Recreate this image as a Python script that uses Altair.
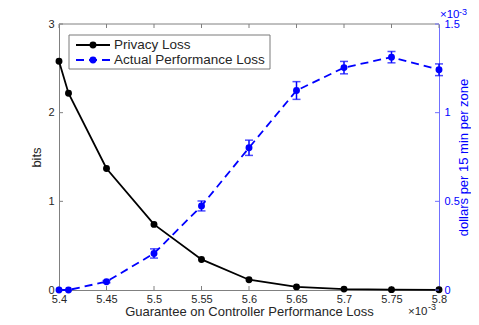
import altair as alt
import pandas as pd

# ---- data (x in units of 1e-3, right axis in units of 1e-3) ----
guarantee = [5.40, 5.41, 5.45, 5.50, 5.55, 5.60, 5.65, 5.70, 5.75, 5.80]
privacy_loss = [2.58, 2.22, 1.37, 0.74, 0.345, 0.116, 0.035, 0.010, 0.004, 0.002]
perf_loss = [0.0, 0.0, 0.047, 0.206, 0.474, 0.802, 1.125, 1.254, 1.313, 1.242]
perf_err = [0.0, 0.0, 0.006, 0.026, 0.028, 0.043, 0.050, 0.035, 0.032, 0.033]
x_ticks = [5.4, 5.45, 5.5, 5.55, 5.6, 5.65, 5.7, 5.75, 5.8]
left_ticks = [0, 1, 2, 3]
right_ticks = [0, 0.5, 1, 1.5]
series_names = ["Privacy Loss", "Actual Performance Loss"]

W, H = 380, 266
FONT = "Liberation Sans"
BLUE = "#0000ff"
DARK = "#262626"
GRAY = "#808080"

df = pd.DataFrame({"x": guarantee, "bits": privacy_loss, "perf": perf_loss, "err": perf_err})
df["lo"] = df["perf"] - df["err"]
df["hi"] = df["perf"] + df["err"]
err_df = df[df["err"] > 0]
dummy = pd.DataFrame({"d": [0]})

xscale = alt.Scale(domain=[5.4, 5.8], nice=False, zero=False)
yl_scale = alt.Scale(domain=[0, 3], nice=False)
yr_scale = alt.Scale(domain=[0, 1.5], nice=False)

xaxis = alt.Axis(values=x_ticks, format="~g", title="Guarantee on Controller Performance Loss",
                 ticks=False, tickSize=0, grid=False, domainColor=GRAY, labelColor=DARK,
                 labelFontSize=11, labelPadding=3, labelFont=FONT, labelFlush=False,
                 labelOverlap=False, titleFont=FONT, titleFontSize=13, titleFontWeight="normal",
                 titleColor=DARK, titleX=W / 2, titleY=25, titleAlign="center",
                 titleBaseline="alphabetic")
yl_axis = alt.Axis(values=left_ticks, format="~g", title="bits", ticks=False, tickSize=0,
                   grid=False, domainColor=GRAY, labelColor=DARK, labelFontSize=11,
                   labelPadding=5, labelFont=FONT, labelFlush=False, titleFont=FONT,
                   titleFontSize=13, titleFontWeight="normal", titleColor=DARK,
                   titleX=-18.5, titleY=H / 2, titleAngle=270, titleAlign="center",
                   titleBaseline="alphabetic")
yr_axis = alt.Axis(values=right_ticks, format="~g", title="dollars per 15 min per zone",
                   orient="right", ticks=False, tickSize=0, grid=False, domainColor="#7070ff",
                   labelColor=BLUE, labelFontSize=11, labelPadding=5, labelFont=FONT,
                   labelFlush=False, titleFont=FONT, titleFontSize=13, titleFontWeight="normal",
                   titleColor=BLUE, titleX=28.5, titleY=H / 2, titleAngle=270,
                   titleAlign="center", titleBaseline="alphabetic")

X = alt.X("x:Q", scale=xscale, axis=xaxis)

# ---- left (privacy loss) ----
black_line = alt.Chart(df).mark_line(color="black", strokeWidth=1.8).encode(
    x=X, y=alt.Y("bits:Q", scale=yl_scale, axis=yl_axis))
black_pts = alt.Chart(df).mark_point(filled=True, color="black", size=48, opacity=1).encode(
    x=X, y=alt.Y("bits:Q", scale=yl_scale, axis=yl_axis))
lt_df = pd.DataFrame({"v": left_ticks})
left_tick_marks = alt.Chart(lt_df).mark_rule(color=GRAY).encode(
    y=alt.Y("v:Q", scale=yl_scale, axis=yl_axis), x=alt.value(0), x2=alt.value(4))
xt_df = pd.DataFrame({"x": x_ticks})
bottom_ticks = alt.Chart(xt_df).mark_rule(color=GRAY).encode(
    x=X, y=alt.value(H), y2=alt.value(H - 4))
top_ticks = alt.Chart(xt_df).mark_rule(color=GRAY).encode(
    x=X, y=alt.value(0), y2=alt.value(4))
top_border = alt.Chart(dummy).mark_rule(color=GRAY).encode(
    x=alt.value(0), x2=alt.value(W), y=alt.value(0))

# legend
leg_box = alt.Chart(dummy).mark_rect(fill="white", stroke="#7a7a7a", strokeWidth=1).encode(
    x=alt.value(10), x2=alt.value(211), y=alt.value(11), y2=alt.value(45))
leg_layers = [leg_box]
for i, (name, col, dash) in enumerate(zip(series_names, ["black", BLUE], [[1, 0], [8, 5]])):
    yy = 21 + 15 * i
    leg_layers.append(alt.Chart(dummy).mark_rule(color=col, strokeWidth=1.8, strokeDash=dash).encode(
        x=alt.value(17), x2=alt.value(51), y=alt.value(yy)))
    leg_layers.append(alt.Chart(dummy).mark_point(filled=True, color=col, size=48, opacity=1).encode(
        x=alt.value(34), y=alt.value(yy)))
    leg_layers.append(alt.Chart(dummy).mark_text(text=name, align="left", baseline="middle",
                                                 font=FONT, fontSize=13.5, color=DARK).encode(
        x=alt.value(55), y=alt.value(yy)))

# exponent labels
exp_layers = [
    alt.Chart(dummy).mark_text(text="\u00d710", align="left", baseline="alphabetic",
                               font=FONT, fontSize=11.5, color=BLUE).encode(
        x=alt.value(381), y=alt.value(-6)),
    alt.Chart(dummy).mark_text(text="-3", align="left", baseline="alphabetic",
                               font=FONT, fontSize=9, color=BLUE).encode(
        x=alt.value(400), y=alt.value(-9.5)),
    alt.Chart(dummy).mark_text(text="\u00d710", align="left", baseline="alphabetic",
                               font=FONT, fontSize=11.5, color=DARK).encode(
        x=alt.value(349), y=alt.value(291)),
    alt.Chart(dummy).mark_text(text="-3", align="left", baseline="alphabetic",
                               font=FONT, fontSize=9, color=DARK).encode(
        x=alt.value(369), y=alt.value(286)),
]

left = alt.layer(top_border, bottom_ticks, top_ticks, left_tick_marks, black_line, black_pts,
                 *leg_layers, *exp_layers)

# ---- right (performance loss) ----
YR = alt.Y("perf:Q", scale=yr_scale, axis=yr_axis)
blue_line = alt.Chart(df).mark_line(color=BLUE, strokeWidth=1.8, strokeDash=[8, 5]).encode(x=X, y=YR)
err_rule = alt.Chart(err_df).mark_rule(color=BLUE, strokeWidth=1.5).encode(
    x=X, y=alt.Y("lo:Q", scale=yr_scale, axis=yr_axis), y2="hi:Q")
cap_lo = alt.Chart(err_df).mark_tick(color=BLUE, orient="horizontal", size=8, thickness=1.5).encode(
    x=X, y=alt.Y("lo:Q", scale=yr_scale, axis=yr_axis))
cap_hi = alt.Chart(err_df).mark_tick(color=BLUE, orient="horizontal", size=8, thickness=1.5).encode(
    x=X, y=alt.Y("hi:Q", scale=yr_scale, axis=yr_axis))
blue_pts = alt.Chart(df).mark_point(filled=True, color=BLUE, size=48, opacity=1).encode(x=X, y=YR)
rt_df = pd.DataFrame({"perf": right_ticks})
right_tick_marks = alt.Chart(rt_df).mark_rule(color="#7070ff").encode(
    y=YR, x=alt.value(W), x2=alt.value(W - 4))

right = alt.layer(right_tick_marks, blue_line, err_rule, cap_lo, cap_hi, blue_pts)

chart = alt.layer(left, right).resolve_scale(y="independent").properties(
    width=W, height=H,
    padding={"left": 51, "top": 16, "right": 32, "bottom": 27},
    autosize=alt.AutoSizeParams(type="none"),
    background="white",
).configure_view(stroke=None)

chart.save("out.html", embed_options={"renderer": "svg", "actions": False})
